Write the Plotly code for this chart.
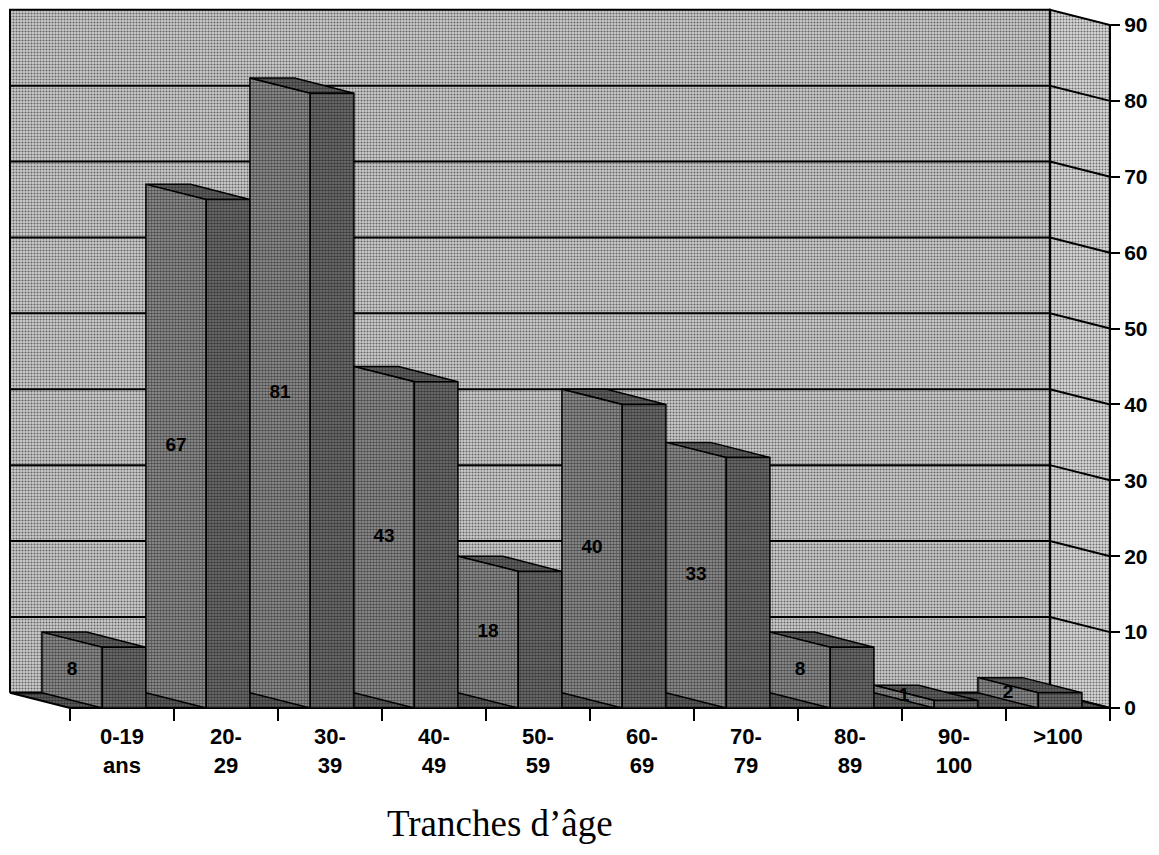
import plotly.graph_objects as go

# ---------------- data ----------------
categories = ["0-19<br>ans", "20-<br>29", "30-<br>39", "40-<br>49", "50-<br>59",
              "60-<br>69", "70-<br>79", "80-<br>89", "90-<br>100", ">100"]
values = [8, 67, 81, 43, 18, 40, 33, 8, 1, 2]
y_ticks = [0, 10, 20, 30, 40, 50, 60, 70, 80, 90]
x_title = "Tranches d\u2019âge"

# ---------------- geometry (pseudo-3D) ----------------
N = len(categories)
WALL_DX = 0.577      # depth shift of back wall (category units)
WALL_DY = 2.0        # depth shift of back wall (value units)
Y_TOP = y_ticks[-1]
BAR_X0 = -0.27       # light face left, relative to category boundary
BAR_X1 = 0.31        # light face right
BAR_DX = 0.42        # width of side face

# pixel mapping helpers (layout only)
W, H = 1159, 855
L, R, T, B = 0, 30, 0, 130
X0_PIX, PX_X = 70.0, 104.0
Y0_PIX, PX_Y = 708.0, 7.589
xr = [(L - X0_PIX) / PX_X, (W - R - X0_PIX) / PX_X]
yr = [(Y0_PIX - (H - B)) / PX_Y, (Y0_PIX - T) / PX_Y]
plot_w, plot_h = W - L - R, H - T - B

wall_pat = dict(shape=".", fgcolor="#000000", bgcolor="#cdcdcd", size=3, solidity=0.4)
side_pat = dict(shape=".", fgcolor="#000000", bgcolor="#d8d8d8", size=3, solidity=0.36)
floor_pat = dict(shape=".", fgcolor="#000000", bgcolor="#666666", size=3, solidity=0.55)
light_pat = dict(shape=".", fgcolor="#000000", bgcolor="#9a9a9a", size=3, solidity=0.55)
top_pat = dict(shape=".", fgcolor="#000000", bgcolor="#6e6e6e", size=3, solidity=0.6)
dark_pat = dict(shape=".", fgcolor="#000000", bgcolor="#7a7a7a", size=3, solidity=0.62)

fig = go.Figure()


def poly(xs, ys, pat, fill, lw=2):
    fig.add_trace(go.Scatter(
        x=list(xs) + [xs[0]], y=list(ys) + [ys[0]], mode="lines", fill="toself",
        fillcolor=fill, fillpattern=pat, line=dict(color="black", width=lw),
        hoverinfo="skip", showlegend=False))


def line(xs, ys, lw=2):
    fig.add_trace(go.Scatter(x=xs, y=ys, mode="lines", line=dict(color="black", width=lw),
                             hoverinfo="skip", showlegend=False))


bx0, bx1 = -WALL_DX, N - WALL_DX
# back wall
poly([bx0, bx1, bx1, bx0], [WALL_DY, WALL_DY, Y_TOP + WALL_DY, Y_TOP + WALL_DY], wall_pat, "#a8a8a8")
# right side wall
poly([bx1, N, N, bx1], [WALL_DY, 0, Y_TOP, Y_TOP + WALL_DY], side_pat, "#b0b0b0")
# grid lines
for v in y_ticks[1:-1]:
    line([bx0, bx1, N], [v + WALL_DY, v + WALL_DY, v])
# floor
poly([bx0, bx1, N, 0], [WALL_DY, WALL_DY, 0, 0], floor_pat, "#3c3c3c")

# bars
lab_x, lab_y = [], []
for i, v in enumerate(values):
    x0 = i + BAR_X0
    x1 = i + BAR_X1
    x2 = x1 + BAR_DX
    # top face
    poly([x0, x1 - 0.15, x2, x1], [v + WALL_DY, v + WALL_DY, v, v], top_pat, "#505050", 1.5)
    # light (sheared) face
    poly([x0, x0, x1, x1], [WALL_DY, v + WALL_DY, v, 0], light_pat, "#6a6a6a", 1.5)
    # side face
    poly([x1, x2, x2, x1], [0, 0, v, v], dark_pat, "#505050", 1.5)
    lab_x.append((x0 + x1) / 2)
    lab_y.append(v / 2 + WALL_DY / 2)

fig.add_trace(go.Scatter(
    x=lab_x, y=lab_y, mode="text", text=[str(v) for v in values],
    textfont=dict(family="Liberation Sans", size=19, color="black", weight="bold"),
    hoverinfo="skip", showlegend=False))

fig.update_layout(
    width=W, height=H,
    margin=dict(l=L, r=R, t=T, b=B),
    paper_bgcolor="white", plot_bgcolor="white",
    xaxis=dict(
        range=xr, showgrid=False, zeroline=False, showline=False,
        tickmode="array", tickvals=[i + 0.5 for i in range(N)],
        ticktext=["<b>" + c + "</b>" for c in categories],
        ticks="outside", ticklen=9, tickcolor="rgba(0,0,0,0)",
        tickfont=dict(family="Liberation Sans", size=22, color="black"),
        minor=dict(tickmode="array", tickvals=list(range(N + 1)), ticks="outside",
                   ticklen=12, tickwidth=2, tickcolor="black"),
        anchor="free", position=(H - B - Y0_PIX) / plot_h,
    ),
    yaxis=dict(
        range=yr, showgrid=False, zeroline=False, showline=False, side="right",
        tickmode="array", tickvals=y_ticks, ticktext=["<b>%d</b>" % t for t in y_ticks],
        ticks="outside", ticklen=9, tickwidth=2, tickcolor="black",
        tickfont=dict(family="Liberation Sans", size=21, color="black"),
        anchor="free", position=(X0_PIX + N * PX_X - L) / plot_w,
    ),
    annotations=[dict(
        text=x_title, xref="paper", yref="paper",
        x=(500 - L) / plot_w, y=((H - B) - 823) / plot_h,
        xanchor="center", yanchor="middle", showarrow=False,
        font=dict(family="Liberation Serif", size=37, color="black"))],
)

fig.write_html("out.html")
